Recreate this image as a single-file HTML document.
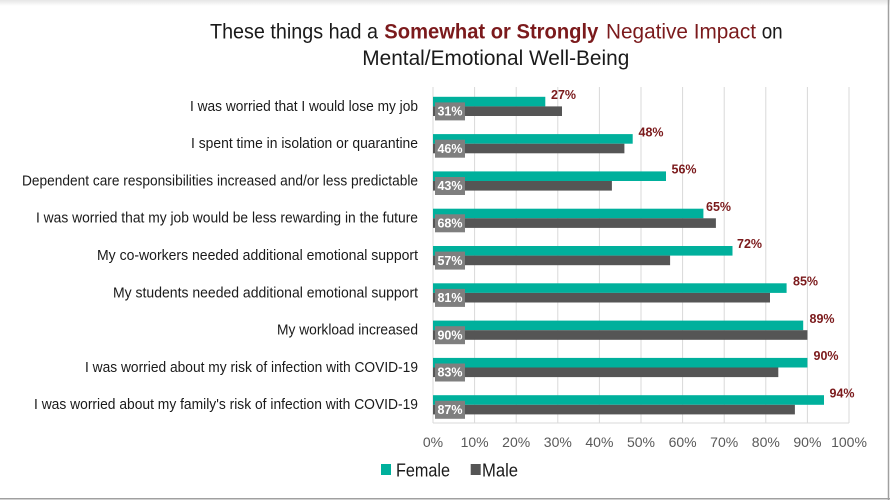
<!DOCTYPE html>
<html>
<head>
<meta charset="utf-8">
<style>
  html, body { margin: 0; padding: 0; background: #ffffff; }
  body { width: 890px; height: 500px; overflow: hidden; }
  svg { display: block; }
  text { font-family: "Liberation Sans", sans-serif; }
</style>
</head>
<body>
<svg width="890" height="500" viewBox="0 0 890 500" xmlns="http://www.w3.org/2000/svg">
  <defs>
    <linearGradient id="topg" x1="0" y1="0" x2="0" y2="1">
      <stop offset="0" stop-color="#e6e6e6"/>
      <stop offset="1" stop-color="#ffffff"/>
    </linearGradient>
  </defs>
  <rect x="0" y="0" width="890" height="500" fill="#ffffff"/>
  <rect x="0" y="0" width="890" height="6" fill="url(#topg)"/>
  <!-- borders -->
  <line x1="888.5" y1="0" x2="888.5" y2="500" stroke="#a0a0a0" stroke-width="1.5"/>
  <line x1="0" y1="498.8" x2="890" y2="498.8" stroke="#a0a0a0" stroke-width="1.5"/>

  <!-- Title -->
  <text x="210" y="38.5" font-size="21.5" fill="#1a1a1a" textLength="168" lengthAdjust="spacingAndGlyphs">These things had a</text>
  <text x="384.3" y="38.5" font-size="21.5" font-weight="bold" fill="#7b1a1c" textLength="214" lengthAdjust="spacingAndGlyphs">Somewhat or Strongly</text>
  <text x="606" y="38.5" font-size="21.5" fill="#7b1a1c" textLength="150" lengthAdjust="spacingAndGlyphs">Negative Impact</text>
  <text x="761.7" y="38.5" font-size="21.5" fill="#1a1a1a" textLength="21" lengthAdjust="spacingAndGlyphs">on</text>
  <text x="362.3" y="65" font-size="21.5" fill="#1a1a1a" textLength="267" lengthAdjust="spacingAndGlyphs">Mental/Emotional Well-Being</text>

  <!-- Gridlines -->
  <g stroke="#d9d9d9" stroke-width="1">
    <line x1="433" y1="87" x2="433" y2="423"/>
    <line x1="474.6" y1="87" x2="474.6" y2="423"/>
    <line x1="516.2" y1="87" x2="516.2" y2="423"/>
    <line x1="557.8" y1="87" x2="557.8" y2="423"/>
    <line x1="599.4" y1="87" x2="599.4" y2="423"/>
    <line x1="641" y1="87" x2="641" y2="423"/>
    <line x1="682.6" y1="87" x2="682.6" y2="423"/>
    <line x1="724.2" y1="87" x2="724.2" y2="423"/>
    <line x1="765.8" y1="87" x2="765.8" y2="423"/>
    <line x1="807.4" y1="87" x2="807.4" y2="423"/>
    <line x1="849" y1="87" x2="849" y2="423"/>
    <line x1="433" y1="423" x2="849" y2="423"/>
  </g>

  <!-- Tick labels -->
  <g font-size="14" fill="#595959" text-anchor="middle">
    <text x="433" y="447">0%</text>
    <text x="474.6" y="447">10%</text>
    <text x="516.2" y="447">20%</text>
    <text x="557.8" y="447">30%</text>
    <text x="599.4" y="447">40%</text>
    <text x="641" y="447">50%</text>
    <text x="682.6" y="447">60%</text>
    <text x="724.2" y="447">70%</text>
    <text x="765.8" y="447">80%</text>
    <text x="807.4" y="447">90%</text>
    <text x="849" y="447">100%</text>
  </g>

  <!-- Category labels -->
  <g font-size="14.5" fill="#1a1a1a" text-anchor="end">
    <text x="418" y="110.8" textLength="228" lengthAdjust="spacingAndGlyphs">I was worried that I would lose my job</text>
    <text x="418" y="148.1" textLength="227" lengthAdjust="spacingAndGlyphs">I spent time in isolation or quarantine</text>
    <text x="418" y="185.4" textLength="396" lengthAdjust="spacingAndGlyphs">Dependent care responsibilities increased and/or less predictable</text>
    <text x="418" y="222.7" textLength="382" lengthAdjust="spacingAndGlyphs">I was worried that my job would be less rewarding in the future</text>
    <text x="418" y="260" textLength="321" lengthAdjust="spacingAndGlyphs">My co-workers needed additional emotional support</text>
    <text x="418" y="297.3" textLength="305" lengthAdjust="spacingAndGlyphs">My students needed additional emotional support</text>
    <text x="418" y="334.6" textLength="141" lengthAdjust="spacingAndGlyphs">My workload increased</text>
    <text x="418" y="371.9" textLength="333" lengthAdjust="spacingAndGlyphs">I was worried about my risk of infection with COVID-19</text>
    <text x="418" y="409.2" textLength="384" lengthAdjust="spacingAndGlyphs">I was worried about my family's risk of infection with COVID-19</text>
  </g>

  <!-- Bars: Female (teal) -->
  <g fill="#00b09c">
    <rect x="433" y="96.8" width="112.3" height="9.6"/>
    <rect x="433" y="134.1" width="199.7" height="9.6"/>
    <rect x="433" y="171.4" width="233" height="9.6"/>
    <rect x="433" y="208.7" width="270.4" height="9.6"/>
    <rect x="433" y="246" width="299.5" height="9.6"/>
    <rect x="433" y="283.3" width="353.6" height="9.6"/>
    <rect x="433" y="320.6" width="370.2" height="9.6"/>
    <rect x="433" y="357.9" width="374.4" height="9.6"/>
    <rect x="433" y="395.2" width="391" height="9.6"/>
  </g>
  <!-- Bars: Male (gray) -->
  <g fill="#555555">
    <rect x="433" y="106.4" width="129" height="9.6"/>
    <rect x="433" y="143.7" width="191.4" height="9.6"/>
    <rect x="433" y="181" width="178.9" height="9.6"/>
    <rect x="433" y="218.3" width="282.9" height="9.6"/>
    <rect x="433" y="255.6" width="237.1" height="9.6"/>
    <rect x="433" y="292.9" width="337" height="9.6"/>
    <rect x="433" y="330.2" width="374.4" height="9.6"/>
    <rect x="433" y="367.5" width="345.3" height="9.6"/>
    <rect x="433" y="404.8" width="361.9" height="9.6"/>
  </g>

  <!-- Male label boxes -->
  <g fill="#7f7f7f">
    <rect x="435" y="102.4" width="30" height="18"/>
    <rect x="435" y="139.7" width="30" height="18"/>
    <rect x="435" y="177" width="30" height="18"/>
    <rect x="435" y="214.3" width="30" height="18"/>
    <rect x="435" y="251.6" width="30" height="18"/>
    <rect x="435" y="288.9" width="30" height="18"/>
    <rect x="435" y="326.2" width="30" height="18"/>
    <rect x="435" y="363.5" width="30" height="18"/>
    <rect x="435" y="400.8" width="30" height="18"/>
  </g>
  <g font-size="12.5" font-weight="bold" fill="#ffffff" text-anchor="middle">
    <text x="450" y="115.6">31%</text>
    <text x="450" y="152.9">46%</text>
    <text x="450" y="190.2">43%</text>
    <text x="450" y="227.5">68%</text>
    <text x="450" y="264.8">57%</text>
    <text x="450" y="302.1">81%</text>
    <text x="450" y="339.4">90%</text>
    <text x="450" y="376.7">83%</text>
    <text x="450" y="414">87%</text>
  </g>

  <!-- Female labels -->
  <g font-size="12.5" font-weight="bold" fill="#7b1a1c">
    <text x="551" y="99">27%</text>
    <text x="638.5" y="136.3">48%</text>
    <text x="671.5" y="173.6">56%</text>
    <text x="706" y="210.9">65%</text>
    <text x="737" y="248.2">72%</text>
    <text x="793" y="285.5">85%</text>
    <text x="809.5" y="322.8">89%</text>
    <text x="813.5" y="360.1">90%</text>
    <text x="829.5" y="397.4">94%</text>
  </g>

  <!-- Legend -->
  <rect x="381" y="464" width="10" height="11" fill="#00b09c"/>
  <text x="396" y="476.5" font-size="18" fill="#1a1a1a" textLength="54" lengthAdjust="spacingAndGlyphs">Female</text>
  <rect x="470.7" y="464" width="10" height="11" fill="#555555"/>
  <text x="482" y="476.5" font-size="18" fill="#1a1a1a" textLength="36" lengthAdjust="spacingAndGlyphs">Male</text>
</svg>
</body>
</html>
